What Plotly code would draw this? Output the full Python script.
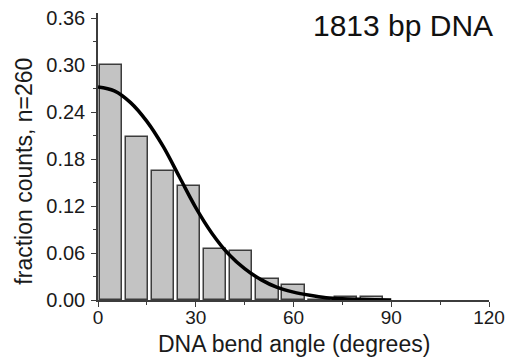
import plotly.graph_objects as go

# Histogram (8-degree bins)
bin_centers = [4, 12, 20, 28, 36, 44, 52, 60, 68, 76, 84]
fractions = [0.300, 0.208, 0.165, 0.146, 0.065, 0.062, 0.027, 0.019, 0.0, 0.004, 0.004]

# Fitted curve, points
curve_x = [0, 5, 10, 15, 20, 25, 30, 35, 40, 45, 50, 55, 60, 65, 70, 75, 80, 85, 90]
curve_y = [0.272, 0.267, 0.252, 0.228, 0.196, 0.157, 0.118, 0.085, 0.059, 0.040,
           0.026, 0.016, 0.010, 0.006, 0.003, 0.0015, 0.0008, 0.0003, 0.0001]

x_ticks = [0, 30, 60, 90, 120]
y_ticks = [0.00, 0.06, 0.12, 0.18, 0.24, 0.30, 0.36]

FONT = "Liberation Sans, Arial, sans-serif"

fig = go.Figure()
fig.add_trace(go.Bar(
    x=bin_centers, y=fractions, width=6.8,
    marker=dict(color="#c3c3c3", line=dict(color="#3c3c3c", width=1.5)),
    showlegend=False,
))
fig.add_trace(go.Scatter(
    x=curve_x, y=curve_y, mode="lines",
    line=dict(color="black", width=3.5, shape="spline"),
    showlegend=False,
))

fig.update_layout(
    width=512, height=358,
    margin=dict(l=98, r=23, t=13, b=58, autoexpand=False),
    paper_bgcolor="white", plot_bgcolor="white",
    font=dict(family=FONT, color="#1a1a1a", size=19),
    bargap=0,
    xaxis=dict(
        range=[0, 120], tickvals=x_ticks, ticktext=[str(v) for v in x_ticks],
        automargin=False,
        showline=True, linecolor="#3c3c3c", linewidth=1.5,
        ticks="outside", ticklen=5, tickwidth=1.2, tickcolor="#3c3c3c",
        minor=dict(tickvals=[15, 45, 75, 105], ticks="outside", ticklen=3,
                   tickcolor="#3c3c3c", tickwidth=1),
        showgrid=False, zeroline=False,
        tickfont=dict(size=19),
        ticklabelstandoff=-6,
    ),
    yaxis=dict(
        range=[0, 0.3664], tickvals=y_ticks, ticktext=["%.2f" % v for v in y_ticks],
        automargin=False,
        showline=True, linecolor="#3c3c3c", linewidth=1.5,
        ticks="outside", ticklen=5, tickwidth=1.2, tickcolor="#3c3c3c",
        minor=dict(tickvals=[0.03, 0.09, 0.15, 0.21, 0.27, 0.33], ticks="outside",
                   ticklen=3, tickcolor="#3c3c3c", tickwidth=1),
        showgrid=False, zeroline=False,
        tickfont=dict(size=20),
        ticklabelstandoff=2,
    ),
    annotations=[
        dict(text="1813 bp DNA", xref="paper", yref="paper", x=0.78, y=0.955,
             xanchor="center", yanchor="middle", showarrow=False,
             font=dict(size=30, family=FONT, color="#111")),
        dict(text="fraction counts, n=260", xref="paper", yref="paper",
             x=-0.188, y=0.449, xanchor="center", yanchor="middle", textangle=-90,
             showarrow=False, font=dict(size=23, family=FONT, color="#1a1a1a")),
        dict(text="DNA bend angle (degrees)", xref="paper", yref="paper",
             x=0.5, y=-0.153, xanchor="center", yanchor="middle",
             showarrow=False, font=dict(size=23, family=FONT, color="#1a1a1a")),
    ],
)

fig.write_html("out.html", config={"displayModeBar": False},
               post_script="document.body.style.margin='0';document.body.style.overflow='hidden';")
